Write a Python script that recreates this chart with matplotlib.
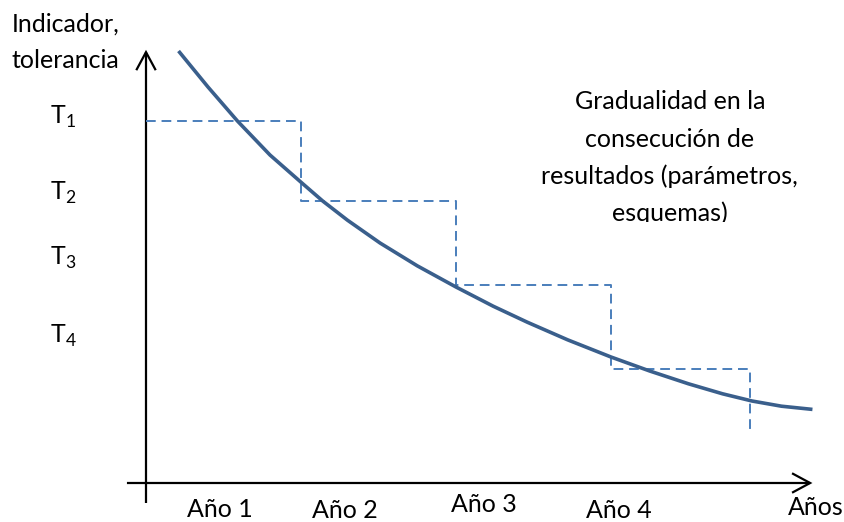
"""Gradualidad en la consecución de resultados: curva del indicador frente a
tolerancias escalonadas por año (T1..T4)."""
import matplotlib
matplotlib.use("Agg")
import matplotlib.pyplot as plt
from matplotlib.patches import FancyArrowPatch
from matplotlib.transforms import Bbox, TransformedBbox

OUT = "out.png"
FONT = "Lato"

# indicator curve (x in years, y in indicator units)
curve_x = [0.21, 0.4, 0.59, 0.8, 1.0, 1.14, 1.3, 1.51, 1.75, 2.0, 2.24, 2.46,
           2.72, 3.0, 3.25, 3.5, 3.72, 3.91, 4.1, 4.3]
curve_y = [10.8, 9.9, 9.05, 8.2, 7.52, 7.05, 6.57, 6.0, 5.43, 4.9, 4.42, 4.02,
           3.58, 3.15, 2.8, 2.48, 2.23, 2.05, 1.92, 1.84]

# tolerance steps (steps-post)
step_x = [0, 1, 2, 3, 3.9]
step_y = [9.05, 7.05, 4.95, 2.85, 1.25]

# labels
tol_labels = ["1", "2", "3", "4"]
tol_label_y = [8.975, 7.075, 5.45, 3.5]
year_labels = ["Año 1", "Año 2", "Año 3", "Año 4", "Años"]
year_label_x = [0.477, 1.284, 2.18, 3.05, 4.32]
year_label_y = [-0.84, -0.87, -0.72, -0.87, -0.8]
note_lines = ["Gradualidad en la", "consecución de",
              "resultados (parámetros,", "esquemas)"]
note_y = [9.35, 8.4, 7.475, 6.55]


def main():
    fig = plt.figure(figsize=(8.45, 5.22), dpi=100)
    ax = fig.add_axes([0, 0, 1, 1])
    ax.set_xlim(-0.942, 4.510)
    ax.set_ylim(-0.975, 12.075)
    ax.axis("off")

    # axes arrows
    style = "->,head_length=13,head_width=7"
    for a, b in [((0, -0.5), (0, 10.83)), ((-0.123, 0), (4.3, 0))]:
        ax.add_patch(FancyArrowPatch(a, b, arrowstyle=style, mutation_scale=1,
                                     lw=1.6, color="black", shrinkA=0, shrinkB=0,
                                     joinstyle="miter", capstyle="butt"))

    ax.plot(step_x, step_y, drawstyle="steps-post", color="#4A7EBB", lw=1.4,
            dashes=(5, 3))
    ax.plot(curve_x, curve_y, color="#3A5F8C", lw=2.6, solid_capstyle="butt",
            solid_joinstyle="round")

    fs = 18
    ax.text(-0.865, 11.275, "Indicador,", fontsize=fs, family=FONT, va="baseline")
    ax.text(-0.865, 10.375, "tolerancia", fontsize=fs, family=FONT, va="baseline")

    for lab, y in zip(tol_labels, tol_label_y):
        ax.text(-0.619, y, "T$_\\mathregular{%s}$" % lab, fontsize=fs,
                family=FONT, va="baseline")

    for lab, x, y in zip(year_labels, year_label_x, year_label_y):
        ax.text(x, y, lab, fontsize=fs, family=FONT, ha="center", va="baseline")

    # the note box cuts its last line, as in the original
    clip = TransformedBbox(Bbox([[2.0, 6.525], [4.5, 12.0]]), ax.transData)
    for line, y in zip(note_lines, note_y):
        t = ax.text(3.38, y, line, fontsize=fs, family=FONT, ha="center",
                    va="baseline")
        t.set_clip_box(clip)
        t.set_clip_on(True)

    fig.savefig(OUT, dpi=100)
    plt.close(fig)


if __name__ == "__main__":
    main()
